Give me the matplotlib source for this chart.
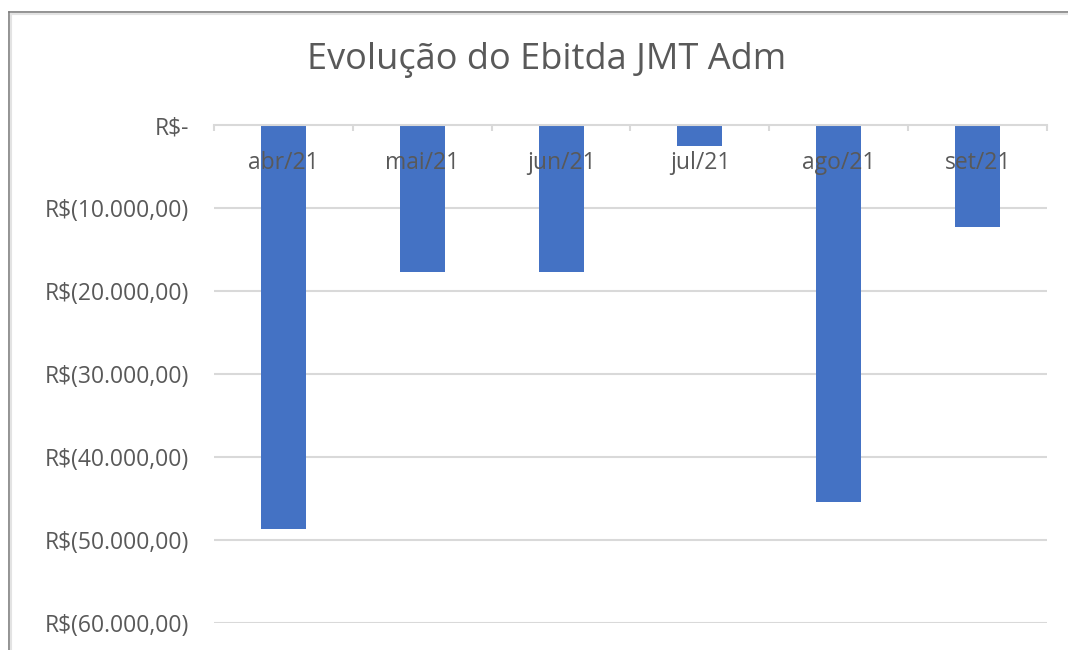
import matplotlib.pyplot as plt
from matplotlib.lines import Line2D
from matplotlib.ticker import FuncFormatter, FixedLocator
import numpy as np

meses = ['abr/21', 'mai/21', 'jun/21', 'jul/21', 'ago/21', 'set/21']
ebitda = [-48700, -17700, -17700, -2500, -45400, -12250]
y_ticks = [0, -10000, -20000, -30000, -40000, -50000, -60000]

cinza = '#595959'
plt.rcParams['font.family'] = ['Open Sans', 'DejaVu Sans']

def fmt_real(v, pos=None):
    if v == 0:
        return 'R$-'
    s = '{:,.2f}'.format(abs(v)).replace(',', 'X').replace('.', ',').replace('X', '.')
    return 'R$(' + s + ')'

fig = plt.figure(figsize=(10.68, 6.5), dpi=100)
ax = fig.add_axes([214/1068, 1 - 623/650, 833/1068, 498/650])

x = np.arange(len(meses))
ax.bar(x, ebitda, width=0.325, color='#4472C4', zorder=1)

# linhas de grade atras das barras
for v in y_ticks[1:]:
    ax.axhline(v, color='#d9d9d9', lw=1.5, zorder=0.5)

ax.set_xlim(-0.5, len(meses) - 0.5)
ax.set_ylim(-60000, 0)
ax.set_yticks(y_ticks)
ax.yaxis.set_major_formatter(FuncFormatter(fmt_real))
ax.tick_params(axis='y', length=0, pad=18, labelsize=16.5, labelcolor=cinza)

ax.set_xticks(x)
ax.set_xticklabels(meses)
ax.xaxis.set_minor_locator(FixedLocator(np.arange(-0.5, len(meses), 1.0)))
ax.tick_params(axis='x', which='major', length=0, pad=18.5, labelsize=16.5, labelcolor=cinza)
ax.tick_params(axis='x', which='minor', length=4, width=1.5, color='#d9d9d9', direction='out')

for s in ['left', 'right', 'top']:
    ax.spines[s].set_visible(False)
ax.spines['bottom'].set_position(('data', 0))
ax.spines['bottom'].set_color('#d9d9d9')
ax.spines['bottom'].set_linewidth(1.5)

fig.text(546.5/1068, 1 - 60/650, 'Evolução do Ebitda JMT Adm', ha='center', va='center',
         fontsize=26, color=cinza)

# moldura cortada do grafico
fig.add_artist(Line2D([9/1068, 9/1068], [0, 1 - 12/650], color='#7f7f7f', lw=1.2))
fig.add_artist(Line2D([9/1068, 1], [1 - 12/650, 1 - 12/650], color='#7f7f7f', lw=1.2))
fig.add_artist(Line2D([11/1068, 1], [1 - 14/650, 1 - 14/650], color='#e3e3e3', lw=1.5))
fig.add_artist(Line2D([11/1068, 11/1068], [0, 1 - 14/650], color='#e3e3e3', lw=1.5))

fig.savefig('out.png', dpi=100)
